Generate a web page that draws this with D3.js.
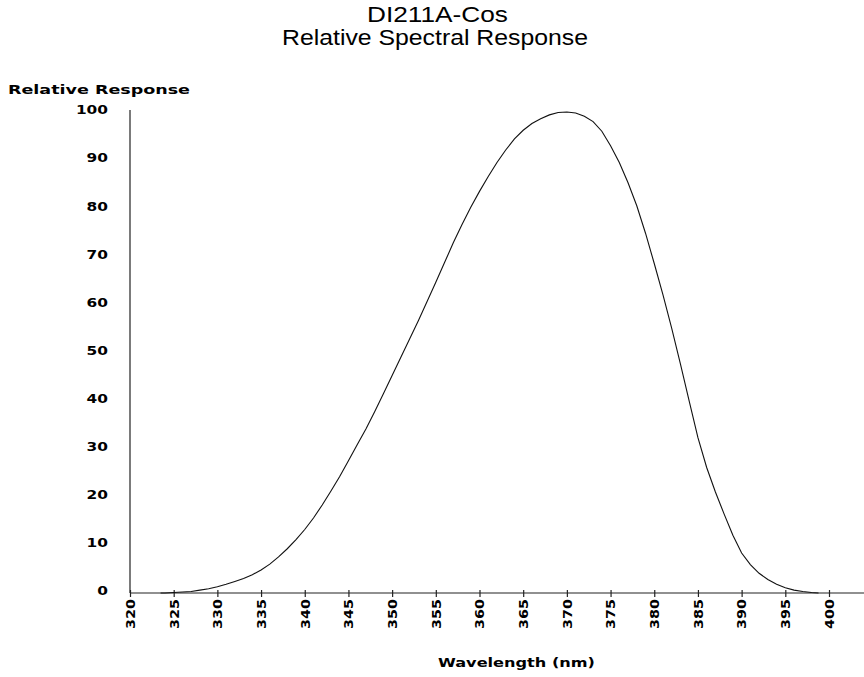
<!DOCTYPE html>
<html>
<head>
<meta charset="utf-8">
<script src="https://cdn.jsdelivr.net/npm/d3@7"></script>
<style>
  html, body { margin: 0; padding: 0; background: #fff; }
  svg { display: block; }
</style>
</head>
<body>
<script>
// ---- data ----
const wavelengths = [323.5,324,325,326,327,328,329,330,331,332,333,334,335,336,337,338,339,340,
  341,342,343,344,345,346,347,348,349,350,351,352,353,354,355,356,357,358,359,360,
  361,362,363,364,365,366,367,368,369,370,371,372,373,374,375,376,377,378,379,380,
  381,382,383,384,385,386,387,388,389,390,391,392,393,394,395,396,397,398,398.8];
const response = [0,0,0.1,0.2,0.3,0.6,0.9,1.3,1.8,2.4,3.0,3.8,4.8,6.0,7.5,9.2,11.1,13.2,
  15.6,18.3,21.2,24.2,27.5,30.8,34.1,37.7,41.4,45.2,49.0,52.8,56.6,60.6,64.6,68.7,72.8,76.6,80.2,83.5,
  86.6,89.5,92.1,94.4,96.2,97.6,98.6,99.4,99.9,100,99.8,99.1,98.0,96.0,93.0,89.5,85.3,80.5,74.8,68.5,
  62.0,55.0,47.6,39.9,32.3,26.1,21.0,16.4,12.0,8.3,5.9,4.1,2.8,1.8,1.1,0.6,0.3,0.1,0];
const xTicks = [320,325,330,335,340,345,350,355,360,365,370,375,380,385,390,395,400];
const yTicks = [0,10,20,30,40,50,60,70,80,90,100];
const titleLines = ["DI211A-Cos", "Relative Spectral Response"];
const yTitle = "Relative Response";
const xTitle = "Wavelength (nm)";

// ---- chart ----
const W = 864, H = 677;
const svg = d3.select("body").append("svg").attr("width", W).attr("height", H);

const x = d3.scaleLinear().domain([320, 400]).range([130, 829]);
const y = d3.scaleLinear().domain([0, 100]).range([593, 112]);

const pixFont = "'DejaVu Sans', Verdana, sans-serif";

// title
const titleSpecs = [{cx: 437.5, len: 141}, {cx: 435, len: 306}];
svg.selectAll("text.title").data(titleLines).join("text")
  .attr("class", "title")
  .attr("x", (d, i) => titleSpecs[i].cx).attr("y", (d, i) => 22 + i * 23)
  .attr("text-anchor", "middle")
  .attr("font-family", "'Liberation Sans', Arial, sans-serif")
  .attr("font-size", 22)
  .attr("textLength", (d, i) => titleSpecs[i].len)
  .attr("lengthAdjust", "spacingAndGlyphs")
  .attr("fill", "#000")
  .text(d => d);

// y axis title
svg.append("text")
  .attr("x", 8).attr("y", 94)
  .attr("font-family", pixFont).attr("font-weight", "bold").attr("font-size", 12)
  .attr("textLength", 182).attr("lengthAdjust", "spacingAndGlyphs")
  .attr("fill", "#000")
  .text(yTitle);

// x axis title
svg.append("text")
  .attr("x", 438).attr("y", 667)
  .attr("font-family", pixFont).attr("font-weight", "bold").attr("font-size", 12)
  .attr("textLength", 157).attr("lengthAdjust", "spacingAndGlyphs")
  .attr("fill", "#000")
  .text(xTitle);

// y axis
const yAxis = d3.axisLeft(y).tickValues(yTicks).tickSize(0).tickPadding(0);
const gy = svg.append("g").attr("transform", "translate(130,0)").call(yAxis);
gy.select(".domain").remove();
gy.selectAll(".tick text")
  .attr("x", -22).attr("dy", "0.32em").attr("y", -2)
  .attr("font-family", pixFont).attr("font-weight", "bold").attr("font-size", 12)
  .attr("fill", "#000")
  .attr("textLength", d => String(d).length * 10.7)
  .attr("lengthAdjust", "spacingAndGlyphs");
svg.append("line")
  .attr("x1", 130).attr("x2", 130).attr("y1", 110).attr("y2", 593)
  .attr("stroke", "#222").attr("stroke-width", 1.2);

// x axis
const xAxis = d3.axisBottom(x).tickValues(xTicks).tickSize(4).tickPadding(0);
const gx = svg.append("g").attr("transform", "translate(0,593)").call(xAxis);
gx.select(".domain").remove();
gx.selectAll(".tick line").attr("y1", -3).attr("y2", 4).attr("stroke", "#222").attr("stroke-width", 1.2);
gx.selectAll(".tick text")
  .attr("transform", "rotate(-90)")
  .attr("text-anchor", "end")
  .attr("x", -6).attr("y", 0).attr("dy", "0.36em")
  .attr("font-family", pixFont).attr("font-weight", "bold").attr("font-size", 12)
  .attr("fill", "#000")
  .attr("textLength", 30)
  .attr("lengthAdjust", "spacingAndGlyphs");
svg.append("line")
  .attr("x1", 130).attr("x2", W).attr("y1", 593).attr("y2", 593)
  .attr("stroke", "#222").attr("stroke-width", 1.2);

// curve
const pts = wavelengths.map((w, i) => [w, response[i]]);
svg.append("path")
  .datum(pts)
  .attr("fill", "none")
  .attr("stroke", "#111")
  .attr("stroke-width", 1.1)
  .attr("d", d3.line().x(d => x(d[0])).y(d => y(d[1])));
</script>
</body>
</html>
